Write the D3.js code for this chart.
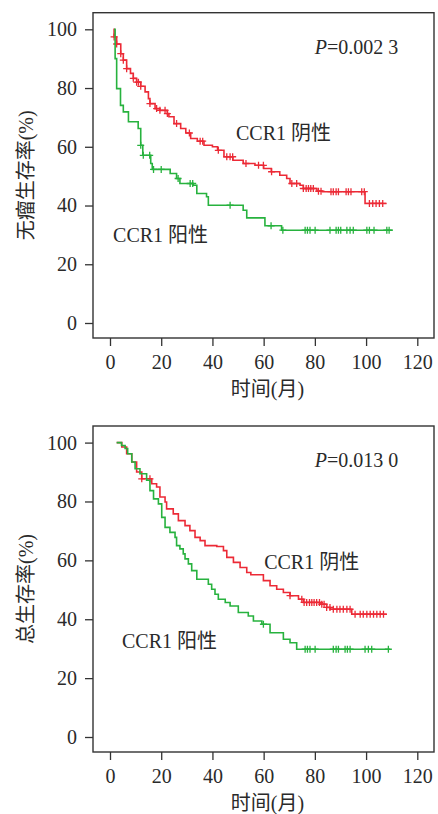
<!DOCTYPE html>
<html>
<head>
<meta charset="utf-8">
<script src="https://cdn.jsdelivr.net/npm/d3@7"></script>
<style>
  body { margin: 0; background: #fff; }
  svg { display: block; }
  text { fill: #2a2a2a; }
</style>
</head>
<body>
<div id="chart"></div>
<script>
const xTicks = [0, 20, 40, 60, 80, 100, 120];
const yTicks = [0, 20, 40, 60, 80, 100];
const groupLabels = ["CCR1 阴性", "CCR1 阳性"];

// 无瘤生存 — CCR1 阴性 (red)
const dfsNegStart = 1.3;
const dfsNegEnd = 108;
const dfsNegTime = [1.6, 2.6, 4.2, 5.2, 6.5, 8, 9.1, 10.4, 12, 13.7, 15, 15.6, 17.6, 19.5, 22.4, 23, 25, 27.6, 29.6, 31.5, 34.1, 36.7, 40, 42, 44.5, 48, 52, 56.6, 60, 63, 66.3, 69, 70.3, 74.2, 75.5, 80.8, 83, 99.6];
const dfsNegSurv = [97.4, 95, 91.7, 89.5, 86.6, 85, 83.3, 82, 80.6, 78.7, 76.4, 74.7, 73, 72.4, 71.3, 70.2, 67.9, 66.2, 64.7, 62.8, 61.9, 60.5, 60, 58.8, 56.6, 55.4, 54.3, 53.7, 52.6, 51.5, 50.3, 49.2, 47.5, 46.9, 45.8, 44.9, 44.7, 40.7];
const dfsNegCensor = [1.6, 2.6, 4.2, 5.2, 6.5, 9.1, 10.4, 11.1, 12, 15.6, 18.2, 19.5, 21.5, 22.4, 26, 31, 35.2, 36.2, 42.3, 45.6, 46.9, 47.9, 53.1, 58, 59.9, 63.1, 71, 72.9, 75.5, 76.6, 77.5, 78.4, 79.4, 81.4, 82.4, 86.3, 87.2, 88.3, 89.2, 92.2, 93.1, 94.1, 98.3, 99.3, 101.3, 102.6, 103.9, 105.2, 106.5];

// 无瘤生存 — CCR1 阳性 (green)
const dfsPosStart = 1.6;
const dfsPosEnd = 110.4;
const dfsPosTime = [2, 2.6, 4.1, 5.2, 7.2, 11, 12, 12.8, 15.9, 16.5, 23.5, 26, 27.3, 32.5, 33.9, 37.7, 38.4, 52, 53.4, 60.5, 67];
const dfsPosSurv = [90, 79.8, 74.1, 71.9, 68.5, 66.2, 60.5, 57.1, 54.3, 52.3, 50.9, 49.2, 47.5, 46.9, 44.1, 43, 40.1, 38.4, 35.8, 33.1, 31.6];
const dfsPosCensor = [12, 13, 15.5, 17, 20, 26.6, 31.3, 32.3, 46.9, 62.9, 67.5, 76.2, 77.1, 78.1, 80.1, 85.9, 88.3, 89.2, 90.1, 92.5, 93.75, 95, 100.3, 101.3, 103.1, 108.1, 109];

// 总生存 — CCR1 阴性 (red)
const osNegStart = 2.6;
const osNegEnd = 108;
const osNegTime = [4.6, 6.5, 8.5, 10.4, 12.4, 16.3, 18.2, 19.5, 21.5, 22.1, 24.7, 26.7, 29.3, 31.2, 33.2, 35.2, 37.1, 41.7, 44.3, 45.6, 48.2, 50.8, 53.4, 55, 59.9, 62.5, 65.1, 67.7, 70.3, 73.6, 75.5, 82, 84.6, 86, 94.4];
const osNegSurv = [98.5, 96.2, 93.4, 90, 87.7, 86, 84.9, 81.5, 79.8, 77.5, 75.8, 73.5, 71.8, 70.1, 67.8, 66.7, 65, 64.7, 63.3, 61, 59.3, 57.6, 55.9, 55.1, 53.1, 51.4, 50.2, 49.1, 48, 46.8, 45.7, 45.1, 44, 43.4, 41.7];
const osNegCensor = [12.4, 15.6, 70.3, 74.9, 75.8, 76.8, 77.9, 78.8, 79.7, 80.7, 81.8, 82.7, 83.6, 84.6, 85.9, 87.2, 88.6, 89.8, 91.1, 92.5, 93.75, 95.7, 97.7, 98.9, 100.3, 101.6, 102.9, 104.2, 105.5, 106.8];

// 总生存 — CCR1 阳性 (green)
const osPosStart = 2.6;
const osPosEnd = 109.4;
const osPosTime = [4.5, 5.9, 6.9, 8.5, 9.8, 11.7, 14.3, 15.6, 17, 18.9, 20.2, 21.5, 23.4, 25.4, 26, 27.3, 28.6, 29.3, 30.6, 31.9, 33.9, 38.4, 39.7, 41, 42.3, 45, 46.9, 50.1, 54, 56, 59.3, 62.5, 67.7, 70.3, 72.9];
const osPosSurv = [99, 98, 96.2, 93.4, 91.1, 89.4, 87.2, 83.7, 80.9, 79.2, 74.6, 71.2, 69.5, 67.8, 65, 63.9, 62.2, 60.5, 58.8, 56.5, 53.6, 51.9, 50.2, 48.5, 46.8, 45.7, 44.5, 42.3, 41.1, 39.4, 38.3, 35.4, 33.2, 32, 29.8];
const osPosCensor = [59.9, 76.2, 77.1, 78.1, 80.1, 87.2, 88.3, 89.2, 91.8, 92.7, 93.75, 99.6, 100.9, 102.2, 108.7];

const red = "#ec2a36";
const green = "#27b23e";
const serif = "'Liberation Serif', 'Times New Roman', 'Noto Sans CJK SC', serif";

const W = 438, H = 814;
const svg = d3.select("#chart").append("svg").attr("width", W).attr("height", H);

const panels = [
  {
    top: 12.7, bottom: 338, yTitle: "无瘤生存率(%)", pText: "0.002 3",
    negLabel: [49.2, 62.2], posLabel: [1.2, 27.5],
    curves: [
      { start: dfsNegStart, end: dfsNegEnd, time: dfsNegTime, surv: dfsNegSurv, censor: dfsNegCensor, color: red },
      { start: dfsPosStart, end: dfsPosEnd, time: dfsPosTime, surv: dfsPosSurv, censor: dfsPosCensor, color: green },
    ],
  },
  {
    top: 426, bottom: 752, yTitle: "总生存率(%)", pText: "0.013 0",
    negLabel: [60.2, 57.2], posLabel: [4.7, 30.3],
    curves: [
      { start: osNegStart, end: osNegEnd, time: osNegTime, surv: osNegSurv, censor: osNegCensor, color: red },
      { start: osPosStart, end: osPosEnd, time: osPosTime, surv: osPosSurv, censor: osPosCensor, color: green },
    ],
  },
];

const left = 93, right = 434;

const survAt = (c, t) => {
  let s = 100;
  c.time.forEach((d, i) => { if (d <= t) s = c.surv[i]; });
  return s;
};

panels.forEach((p) => {
  const g = svg.append("g");
  const x = d3.scaleLinear().domain([0, 120]).range([left + 17, right - 16.7]);
  const y = d3.scaleLinear().domain([0, 100]).range([p.bottom - 15, p.top + 16.6]);

  const yAxis = g.append("g")
    .attr("transform", `translate(${left}, 0)`)
    .call(d3.axisLeft(y).tickValues(yTicks).tickSize(8).tickPadding(8));
  const xAxis = g.append("g")
    .attr("transform", `translate(0, ${p.bottom})`)
    .call(d3.axisBottom(x).tickValues(xTicks).tickSize(8).tickPadding(9));
  [yAxis, xAxis].forEach((a) => {
    a.select(".domain").remove();
    a.selectAll("line").attr("stroke", "#333").attr("stroke-width", 1.3);
    a.selectAll("text").attr("font-family", serif).attr("font-size", 20).attr("fill", "#2a2a2a");
  });

  g.append("rect")
    .attr("x", left).attr("y", p.top)
    .attr("width", right - left).attr("height", p.bottom - p.top)
    .attr("fill", "none").attr("stroke", "#333").attr("stroke-width", 1.4);

  const line = d3.line().x((d) => x(d[0])).y((d) => y(d[1])).curve(d3.curveStepAfter);

  p.curves.forEach((c) => {
    const pts = [[c.start, 100]].concat(c.time.map((t, i) => [t, c.surv[i]]));
    pts.push([c.end, c.surv[c.surv.length - 1]]);
    g.append("path").datum(pts)
      .attr("d", line)
      .attr("fill", "none").attr("stroke", c.color).attr("stroke-width", 1.6);

    g.append("g").selectAll("path").data(c.censor).enter().append("path")
      .attr("d", (t) => {
        const cx = x(t), cy = y(survAt(c, t));
        return `M${cx - 3.5},${cy}H${cx + 3.5}M${cx},${cy - 3.5}V${cy + 3.5}`;
      })
      .attr("stroke", c.color).attr("stroke-width", 1.3).attr("fill", "none");
  });

  const pt = g.append("text")
    .attr("x", x(80)).attr("y", y(91.6))
    .attr("font-family", serif).attr("font-size", 20);
  pt.append("tspan").attr("font-style", "italic").text("P");
  pt.append("tspan").text("=" + p.pText);

  g.append("text").text(groupLabels[0])
    .attr("x", x(p.negLabel[0])).attr("y", y(p.negLabel[1]))
    .attr("font-family", serif).attr("font-size", 20);
  g.append("text").text(groupLabels[1])
    .attr("x", x(p.posLabel[0])).attr("y", y(p.posLabel[1]))
    .attr("font-family", serif).attr("font-size", 20);

  g.append("text").text(p.yTitle)
    .attr("transform", `translate(33, ${(p.top + p.bottom) / 2}) rotate(-90)`)
    .attr("text-anchor", "middle")
    .attr("font-family", serif).attr("font-size", 20);

  g.append("text").text("时间(月)")
    .attr("x", (left + right) / 2 + 4).attr("y", p.bottom + 58)
    .attr("text-anchor", "middle")
    .attr("font-family", serif).attr("font-size", 20);
});
</script>
</body>
</html>
